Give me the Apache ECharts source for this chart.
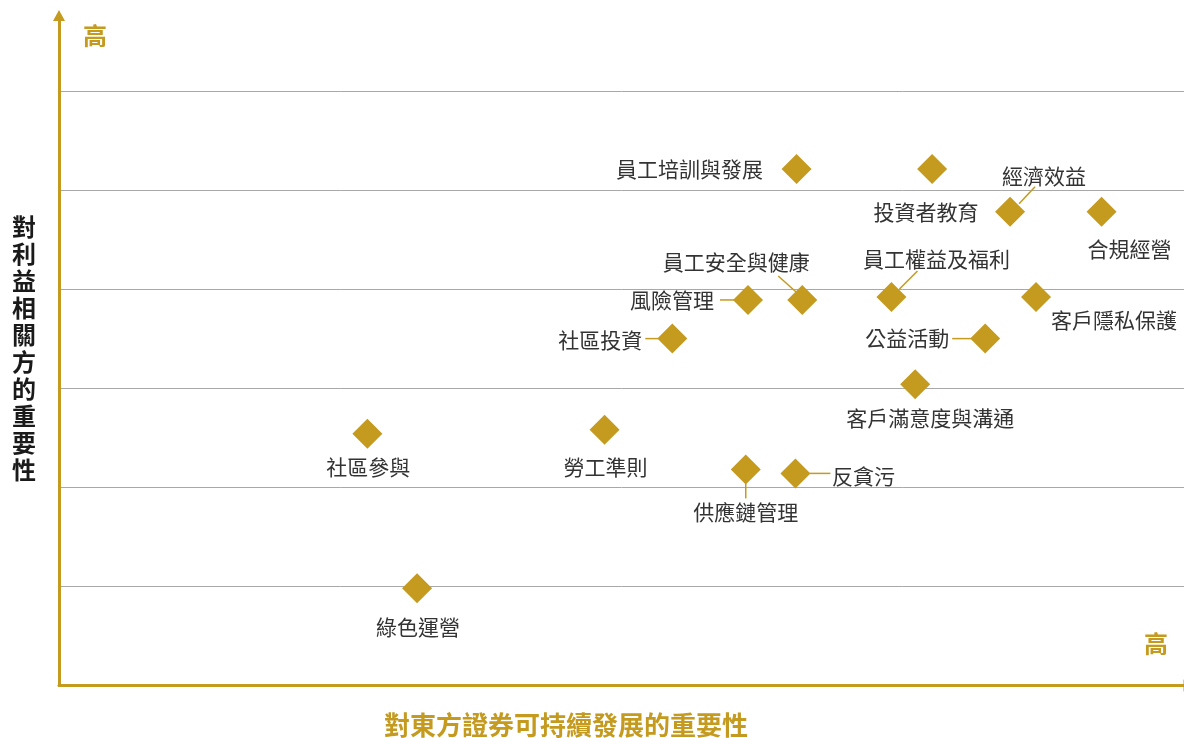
<!DOCTYPE html>
<html>
<head>
<meta charset="utf-8">
<script src="https://cdn.jsdelivr.net/npm/echarts@6/dist/echarts.min.js"></script>
<style>
	html, body { margin: 0; padding: 0; background: #fff; }
	#chart { width: 1184px; height: 738px; }
</style>
</head>
<body>
<div id="chart"></div>
<script>
// 議題名稱
var topics = ['員工培訓與發展', '投資者教育', '經濟效益', '合規經營', '風險管理', '員工安全與健康',
	'員工權益及福利', '客戶隱私保護', '社區投資', '公益活動', '客戶滿意度與溝通', '社區參與',
	'勞工準則', '供應鏈管理', '反貪污', '綠色運營'];
// 對東方證券可持續發展的重要性 (x)
var companyImportance = [6.53, 7.73, 8.42, 9.23, 6.10, 6.58, 7.37, 8.65, 5.43, 8.20, 7.58, 2.73, 4.83, 6.08, 6.52, 3.17];
// 對利益相關方的重要性 (y)
var stakeholderImportance = [5.21, 5.21, 4.78, 4.78, 3.89, 3.89, 3.92, 3.92, 3.50, 3.50, 3.04, 2.54, 2.58, 2.18, 2.14, 0.98];

var gold = '#C49A1F';
var labelFont = '"Noto Sans CJK TC", "Noto Sans CJK SC", sans-serif';

// 標籤相對於菱形中心的位置 (px)
var labelOffset = {
	'員工培訓與發展': [-107, 0],
	'投資者教育': [-6, 43],
	'經濟效益': [34, -36],
	'合規經營': [28, 37],
	'風險管理': [-76, 0],
	'員工安全與健康': [-66, -38],
	'員工權益及福利': [45, -38],
	'客戶隱私保護': [78, 23],
	'社區投資': [-72, 1],
	'公益活動': [-78, -1],
	'客戶滿意度與溝通': [15, 34],
	'社區參與': [1, 33],
	'勞工準則': [1, 37],
	'供應鏈管理': [0, 43],
	'反貪污': [68, 3],
	'綠色運營': [1, 39]
};
// 引線 [x1, y1, x2, y2]，相對於菱形中心 (px)
var leaders = {
	'經濟效益': [9, -8, 25, -25],
	'員工安全與健康': [-5, -7, -24, -24],
	'員工權益及福利': [8, -8, 26, -26],
	'風險管理': [-14, 0, -28, 0],
	'社區投資': [-14, 0, -27, 0],
	'公益活動': [-14, 0, -33, 0],
	'供應鏈管理': [0, 14, 0, 29],
	'反貪污': [14, 0, 35, 0]
};

var myChart = echarts.init(document.getElementById('chart'));

var points = topics.map(function(name, i) {
	return {
		name: name,
		value: [companyImportance[i], stakeholderImportance[i]],
		label: { offset: labelOffset[name] }
	};
});

var option = {
	animation: false,
	grid: {
		left: 59,
		right: 0,
		top: 15.5,
		bottom: 52.5
	},
	xAxis: {
		type: 'value',
		min: 0,
		max: 9.96,
		axisLine: {
			show: true,
			symbol: ['none', 'triangle'],
			symbolSize: [12, 11],
			symbolOffset: [0, 5],
			lineStyle: { color: gold, width: 3 }
		},
		axisTick: { show: false },
		axisLabel: { show: false },
		splitLine: { show: false }
	},
	yAxis: {
		type: 'value',
		min: 0,
		max: 6.76,
		interval: 1,
		axisLine: {
			show: true,
			symbol: ['none', 'triangle'],
			symbolSize: [12, 11],
			lineStyle: { color: gold, width: 3 }
		},
		axisTick: { show: false },
		axisLabel: { show: false },
		splitLine: {
			show: true,
			showMinLine: false,
			showMaxLine: false,
			lineStyle: { color: '#a8a8a8', width: 1 }
		}
	},
	graphic: [
		{
			type: 'text', x: 95, y: 36,
			style: { text: '高', fill: gold, font: 'bold 24px ' + labelFont, textAlign: 'center', textVerticalAlign: 'middle' }
		},
		{
			type: 'text', x: 1156, y: 644,
			style: { text: '高', fill: gold, font: 'bold 24px ' + labelFont, textAlign: 'center', textVerticalAlign: 'middle' }
		},
		{
			type: 'text', x: 566, y: 725,
			style: { text: '對東方證券可持續發展的重要性', fill: gold, font: 'bold 26px ' + labelFont, textAlign: 'center', textVerticalAlign: 'middle' }
		},
		{
			type: 'text', x: 24, y: 348,
			style: {
				text: '對利益相關方的重要性'.split('').join('\n'),
				fill: '#1a1a1a', font: 'bold 24px ' + labelFont, lineHeight: 27,
				textAlign: 'center', textVerticalAlign: 'middle'
			}
		}
	],
	series: [
		{
			// 引線
			type: 'custom',
			silent: true,
			z: 1,
			encode: { x: 0, y: 1 },
			data: topics.map(function(name, i) {
				return [companyImportance[i], stakeholderImportance[i]];
			}),
			renderItem: function(params, api) {
				var seg = leaders[topics[params.dataIndex]];
				if(!seg) {
					return;
				}
				var c = api.coord([api.value(0), api.value(1)]);
				return {
					type: 'line',
					shape: { x1: c[0] + seg[0], y1: c[1] + seg[1], x2: c[0] + seg[2], y2: c[1] + seg[3] },
					style: { stroke: gold, lineWidth: 1.5 }
				};
			}
		},
		{
			type: 'scatter',
			z: 3,
			symbol: 'diamond',
			symbolSize: 30,
			itemStyle: { color: gold, opacity: 1 },
			label: {
				show: true,
				position: 'inside',
				formatter: '{b}',
				color: '#333',
				fontSize: 21,
				fontFamily: labelFont
			},
			emphasis: { disabled: true },
			data: points
		}
	]
};
myChart.setOption(option);
</script>
</body>
</html>
